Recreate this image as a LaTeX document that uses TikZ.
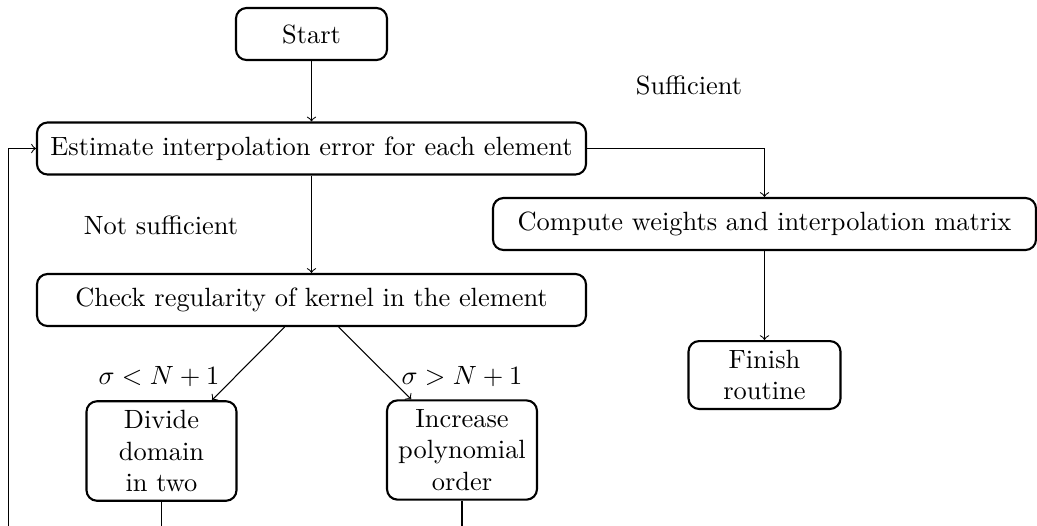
\documentclass[tikz,border=0pt]{standalone}
\usetikzlibrary{positioning}

\tikzset{
  flowbox/.style={draw, thick, rounded corners=4pt, align=center,
    inner sep=3.33pt, minimum height=52*0.3788pt},
  flowlabel/.style={inner sep=0pt},
  flowarrow/.style={->, thin},
  flowline/.style={thin}
}

\begin{document}
\begin{tikzpicture}[x=0.3788pt, y=-0.3788pt]
  \useasboundingbox (0,0) rectangle (1037,525);
  \clip (0,0) rectangle (1037,525);

  % process boxes
  \node[flowbox, minimum width=151*0.3788pt] (start) at (311.5,34) {Start};
  \node[flowbox, minimum width=549*0.3788pt] (estimate) at (311.5,148.5)
    {Estimate interpolation error for each element};
  \node[flowbox, minimum width=543*0.3788pt] (compute) at (764.5,224)
    {Compute weights and interpolation matrix};
  \node[flowbox, minimum width=549*0.3788pt] (check) at (311.5,300)
    {Check regularity of kernel in the element};
  \node[flowbox, minimum width=152*0.3788pt] (finish) at (764.5,375)
    {Finish\\routine};
  \node[flowbox, minimum width=150*0.3788pt] (divide) at (161.5,451)
    {Divide\\domain\\in two};
  \node[flowbox, minimum width=150*0.3788pt] (increase) at (462,450)
    {Increase\\polynomial\\order};

  % branch labels
  \node[flowlabel] (suff) at (689,85) {Sufficient};
  \node[flowlabel] (notsuff) at (161,225) {Not sufficient};
  \node[flowlabel] (lt) at (159,377) {$\sigma < N+1$};
  \node[flowlabel] (gt) at (462,377) {$\sigma > N+1$};

  % ends of the return path
  \coordinate (divout) at (161.5,560);
  \coordinate (incout) at (462,560);
  \coordinate (loopin) at (8.5,560);

  % connectors
  \draw[flowarrow] (start) -- (estimate);
  \draw[flowarrow] (estimate) -- (check);
  \draw[flowarrow] (estimate.east) -| (compute.north);
  \draw[flowarrow] (compute) -- (finish);
  \draw[flowarrow] (check) -- (divide);
  \draw[flowarrow] (check) -- (increase);
  \draw[flowline] (divide.south) -- (divout);
  \draw[flowline] (increase.south) -- (incout);
  \draw[flowarrow] (loopin) |- (estimate.west);
\end{tikzpicture}
\end{document}
